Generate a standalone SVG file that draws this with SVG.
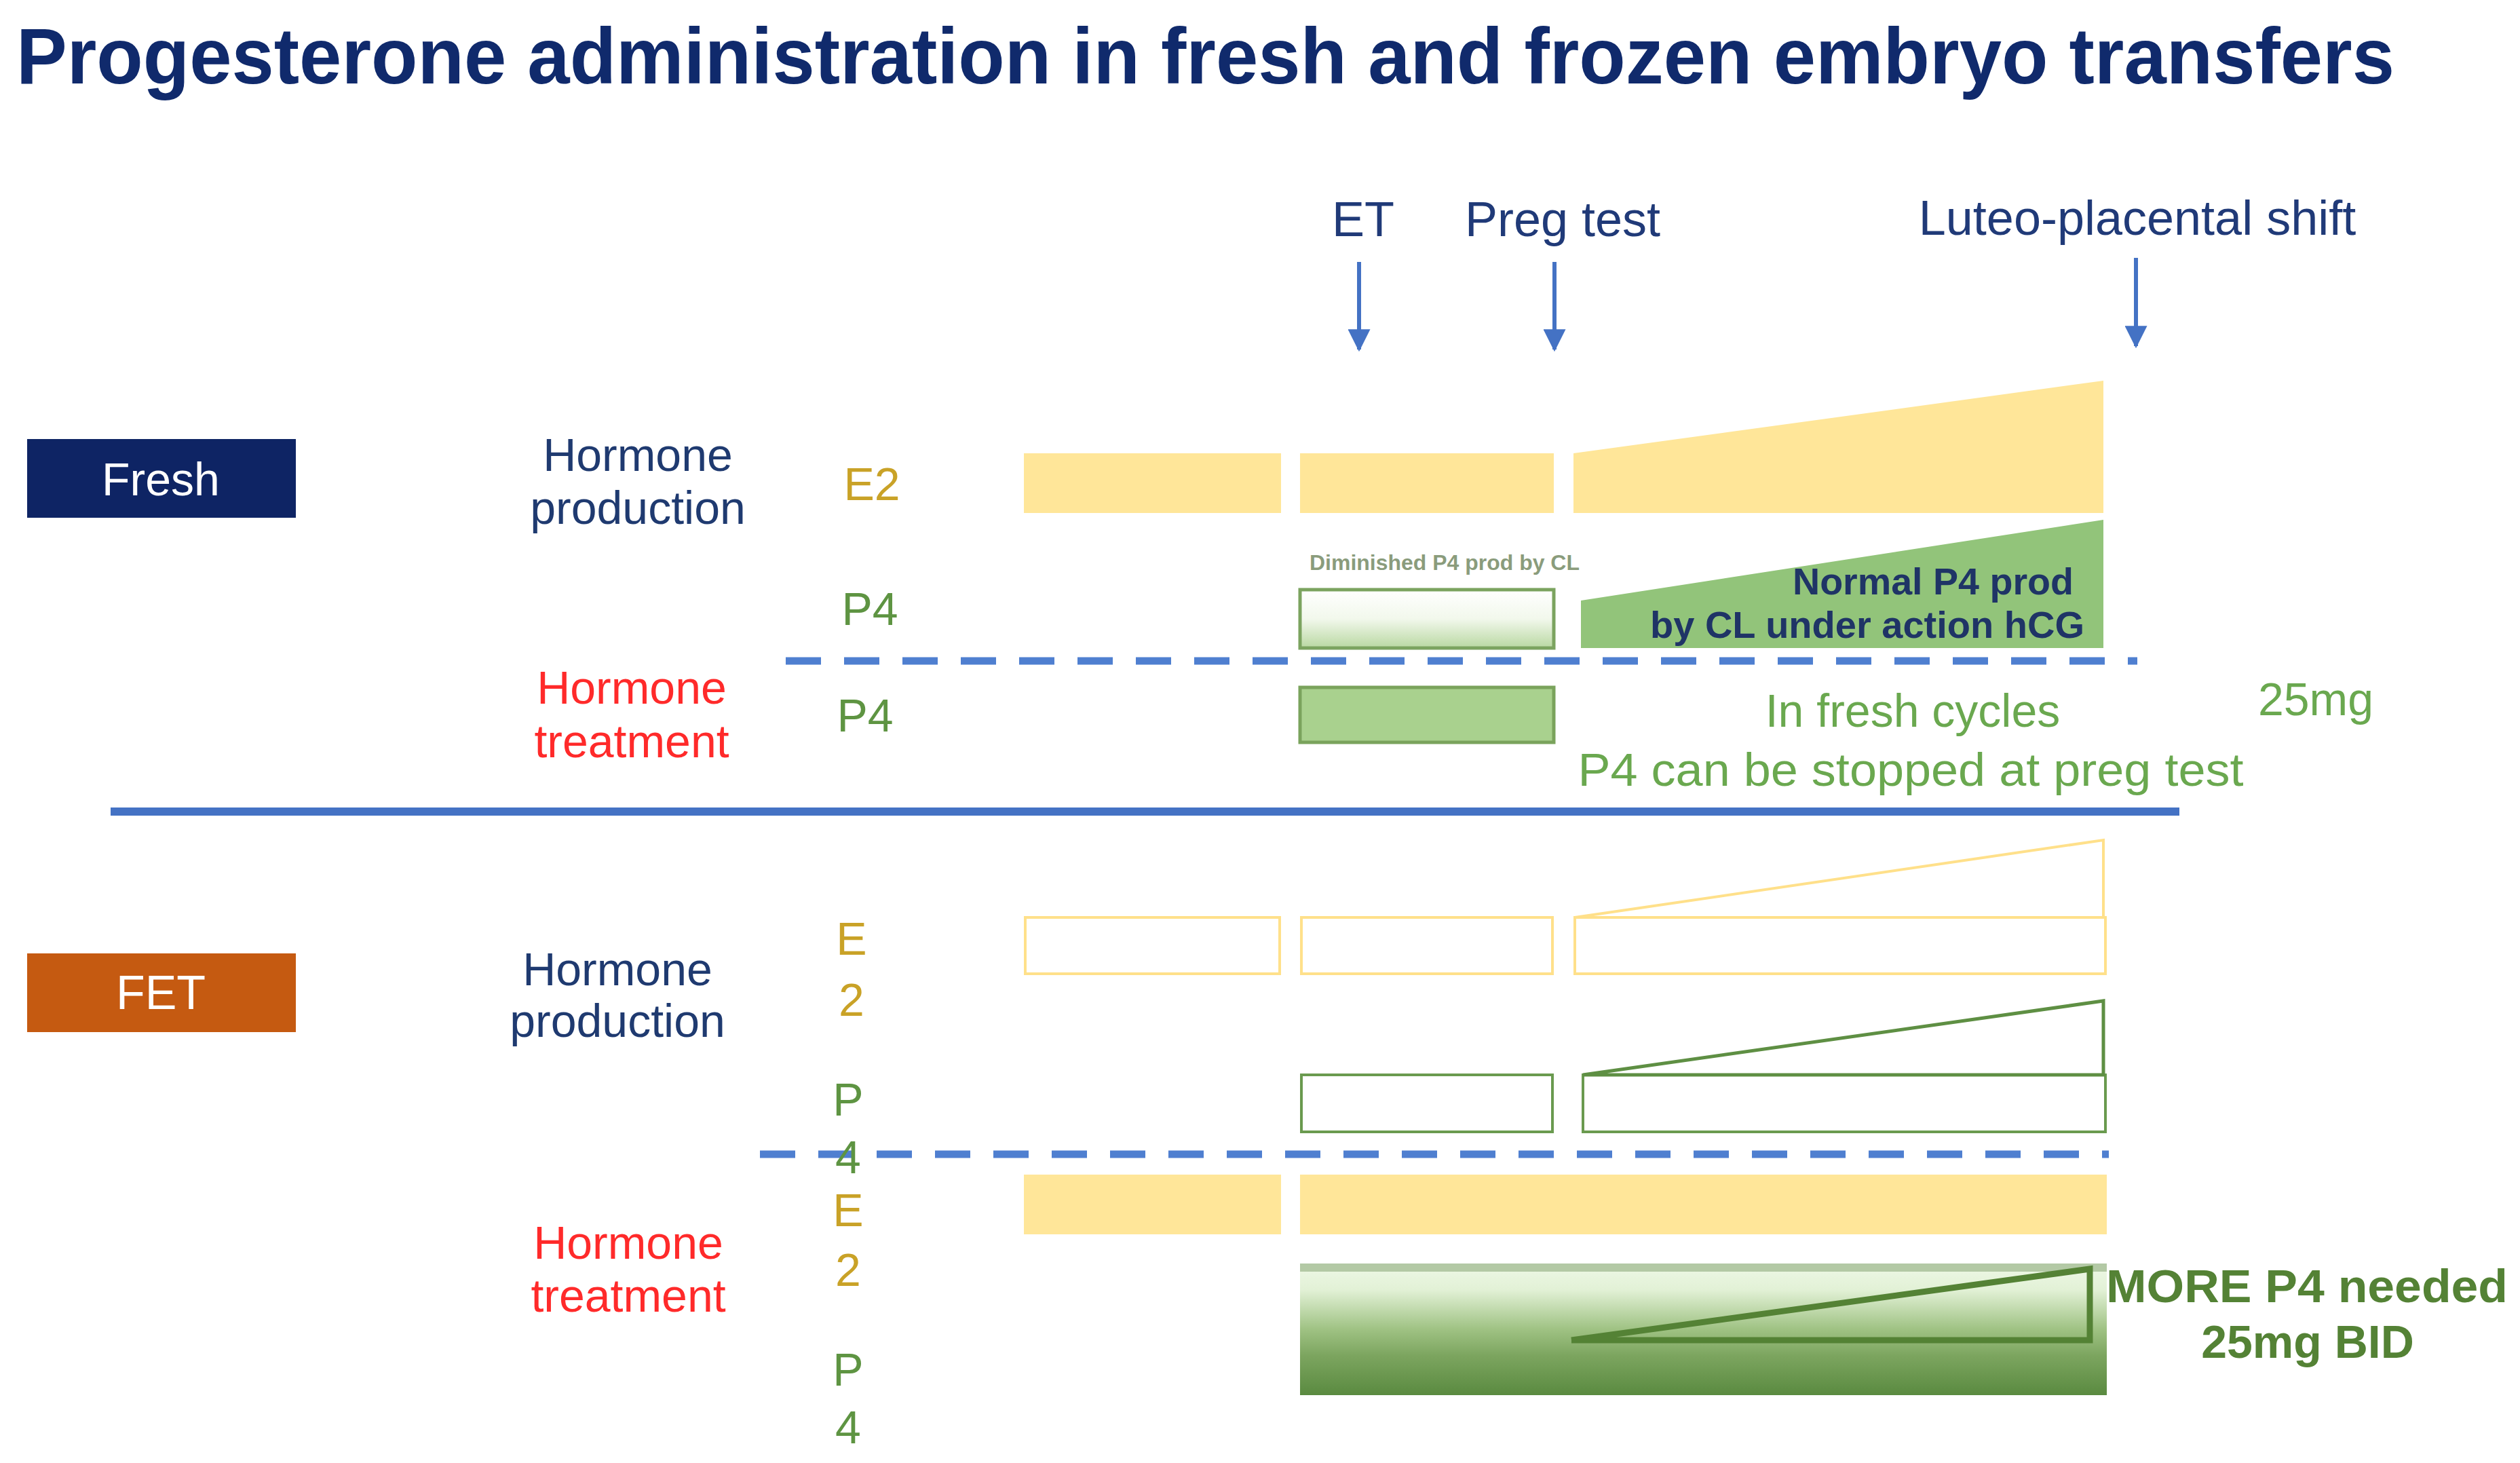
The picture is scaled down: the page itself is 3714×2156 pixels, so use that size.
<svg xmlns="http://www.w3.org/2000/svg" width="3714" height="2156" viewBox="0 0 3714 2156">
<style>
.t{font-family:"Liberation Sans",Arial,sans-serif}
.navy{fill:#1f3a70}
.red{fill:#ff2a2a}
.gold{fill:#c9a227}
.grn{fill:#5e9442}
.lbl{font-size:68px;text-anchor:middle}
.hdr{font-size:72px;fill:#203a78;text-anchor:middle}
.e2f{fill:#ffe699}
.e2o{fill:none;stroke:#ffe08a;stroke-width:4}
.p4o{fill:none;stroke:#6a9a4f;stroke-width:4}
.arr{stroke:#4472c4;stroke-width:6;fill:none}
.dash{stroke:#4f7fd0;stroke-width:11;stroke-dasharray:52 34;fill:none}
</style>
<defs>
<marker id="ah" viewBox="0 0 10 10" refX="9" refY="5" markerWidth="5.5" markerHeight="5.5" orient="auto" markerUnits="strokeWidth">
<path d="M0,0 L10,5 L0,10 z" fill="#4472c4"/>
</marker>
<linearGradient id="dimg" x1="0" y1="0" x2="0" y2="1">
<stop offset="0" stop-color="#ffffff"/>
<stop offset="0.5" stop-color="#f2f8ec"/>
<stop offset="1" stop-color="#b9d8a2"/>
</linearGradient>
<linearGradient id="moreg" x1="0" y1="0" x2="0" y2="1">
<stop offset="0" stop-color="#eef8e6"/>
<stop offset="0.2" stop-color="#e2f1d6"/>
<stop offset="0.5" stop-color="#9fc283"/>
<stop offset="0.7" stop-color="#7ca55f"/>
<stop offset="1" stop-color="#5a8a40"/>
</linearGradient>
</defs>
<rect width="3714" height="2156" fill="#ffffff"/>

<g id="title">
<text class="t" x="24" y="123" font-family="'Open Sans','Liberation Sans',sans-serif" font-weight="bold" font-size="116" fill="#102a6c" textLength="3505" lengthAdjust="spacingAndGlyphs">Progesterone administration in fresh and frozen embryo transfers</text>
</g>

<g id="timeline-labels">
<text class="t hdr" x="2009" y="348">ET</text>
<text class="t hdr" x="2303" y="348">Preg test</text>
<text class="t hdr" x="3150" y="346">Luteo-placental shift</text>
</g>

<g id="connectors">
<line class="arr" x1="2003" y1="386" x2="2003" y2="515" marker-end="url(#ah)"/>
<line class="arr" x1="2291" y1="386" x2="2291" y2="515" marker-end="url(#ah)"/>
<line class="arr" x1="3148" y1="380" x2="3148" y2="510" marker-end="url(#ah)"/>
</g>

<g id="separators">
<line class="dash" x1="1158" y1="974" x2="3150" y2="974"/>
<line x1="163" y1="1196" x2="3212" y2="1196" stroke="#4472c4" stroke-width="12"/>
<line class="dash" x1="1120" y1="1701" x2="3108" y2="1701"/>
</g>

<g id="fresh-tag">
<rect x="40" y="647" width="396" height="116" fill="#0e2464"/>
<text class="t" x="237" y="730" font-size="68" fill="#ffffff" text-anchor="middle">Fresh</text>
</g>

<g id="fresh-production-label">
<text class="t lbl navy" x="940" y="694">Hormone</text>
<text class="t lbl navy" x="940" y="772">production</text>
</g>
<g id="fresh-treatment-label">
<text class="t lbl red" x="931" y="1037">Hormone</text>
<text class="t lbl red" x="931" y="1116">treatment</text>
</g>

<g id="fresh-e2">
<text class="t lbl gold" x="1285" y="737">E2</text>
<rect class="e2f" x="1509" y="668" width="379" height="88"/>
<rect class="e2f" x="1916" y="668" width="374" height="88"/>
<polygon class="e2f" points="2319,668 3100,561 3100,756 2319,756"/>
</g>

<g id="fresh-p4-production">
<text class="t lbl grn" x="1282" y="921">P4</text>
<text class="t" x="1930" y="840" font-size="31" font-weight="bold" fill="#8a9c7c" textLength="398" lengthAdjust="spacingAndGlyphs">Diminished P4 prod by CL</text>
<rect x="1916" y="869" width="374" height="86" fill="url(#dimg)" stroke="#7ba35f" stroke-width="5"/>
<polygon points="2330,885 3100,766 3100,955 2330,955" fill="#92c47a"/>
<text class="t" x="3056" y="876" font-size="56" font-weight="bold" fill="#1f3466" text-anchor="end" textLength="414" lengthAdjust="spacingAndGlyphs">Normal P4 prod</text>
<text class="t" x="3072" y="940" font-size="56" font-weight="bold" fill="#1f3466" text-anchor="end" textLength="640" lengthAdjust="spacingAndGlyphs">by CL under action hCG</text>
</g>

<g id="fresh-p4-treatment">
<text class="t lbl grn" x="1275" y="1078">P4</text>
<rect x="1916" y="1013" width="374" height="81" fill="#a9d18e" stroke="#7aa35c" stroke-width="5"/>
<text class="t" x="2819" y="1071" font-size="68" fill="#6aa84f" text-anchor="middle">In fresh cycles</text>
<text class="t" x="2816" y="1158" font-size="68" fill="#6aa84f" text-anchor="middle" textLength="981" lengthAdjust="spacingAndGlyphs">P4 can be stopped at preg test</text>
<text class="t" x="3413" y="1054" font-size="68" fill="#6aa84f" text-anchor="middle">25mg</text>
</g>

<g id="fet-tag">
<rect x="40" y="1405" width="396" height="116" fill="#c55a11"/>
<text class="t" x="237" y="1487" font-size="70" fill="#ffffff" text-anchor="middle">FET</text>
</g>

<g id="fet-production-label">
<text class="t lbl navy" x="910" y="1452">Hormone</text>
<text class="t lbl navy" x="910" y="1528">production</text>
</g>
<g id="fet-treatment-label">
<text class="t lbl red" x="926" y="1855">Hormone</text>
<text class="t lbl red" x="926" y="1933">treatment</text>
</g>

<g id="fet-e2-production">
<text class="t lbl gold" x="1255" y="1407">E</text>
<text class="t lbl gold" x="1255" y="1497">2</text>
<rect class="e2o" x="1511" y="1352" width="375" height="83"/>
<rect class="e2o" x="1918" y="1352" width="370" height="83"/>
<rect class="e2o" x="2321" y="1352" width="782" height="83"/>
<polyline class="e2o" points="2321,1352 3100,1238 3100,1352"/>
</g>

<g id="fet-p4-production">
<text class="t lbl grn" x="1250" y="1644">P</text>
<text class="t lbl grn" x="1250" y="1729">4</text>
<rect class="p4o" x="1918" y="1584" width="370" height="84"/>
<rect class="p4o" x="2333" y="1584" width="770" height="84"/>
<polyline points="2333,1584 3100,1475 3100,1584 2333,1584" fill="none" stroke="#5e8f43" stroke-width="5"/>
</g>

<g id="fet-e2-treatment">
<text class="t lbl gold" x="1250" y="1807">E</text>
<text class="t lbl gold" x="1250" y="1895">2</text>
<rect class="e2f" x="1509" y="1731" width="379" height="88"/>
<rect class="e2f" x="1916" y="1731" width="1189" height="88"/>
</g>

<g id="fet-p4-treatment">
<text class="t lbl grn" x="1250" y="2042">P</text>
<text class="t lbl grn" x="1250" y="2127">4</text>
<rect x="1916" y="1862" width="1189" height="194" fill="url(#moreg)"/>
<rect x="1916" y="1862" width="1189" height="12" fill="#b3c9a5"/>
<polyline points="2316,1975 3080,1870 3080,1975 2316,1975" fill="none" stroke="#548235" stroke-width="9"/>
<text class="t" x="3400" y="1919" font-size="68" font-weight="bold" fill="#548235" text-anchor="middle" textLength="592" lengthAdjust="spacingAndGlyphs">MORE P4 needed</text>
<text class="t" x="3401" y="2001" font-size="68" font-weight="bold" fill="#548235" text-anchor="middle">25mg BID</text>
</g>
</svg>
